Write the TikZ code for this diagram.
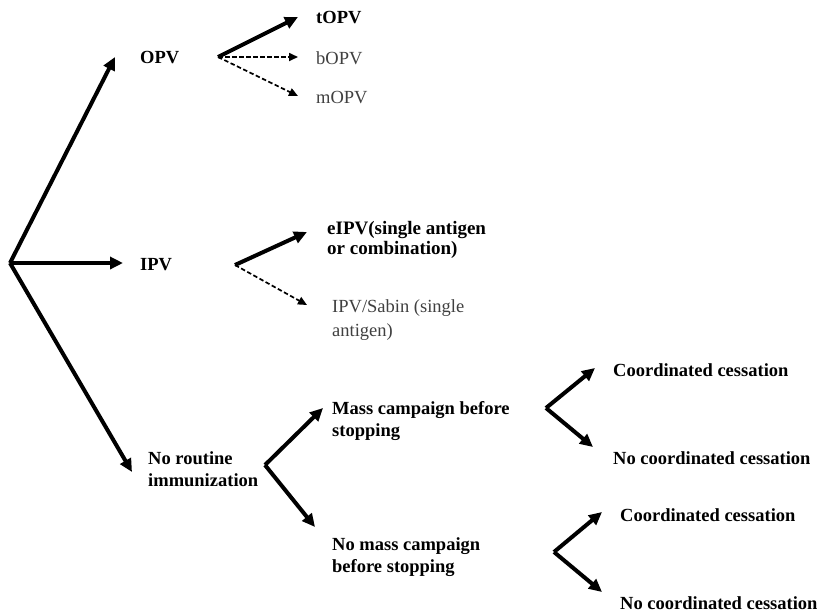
\documentclass[tikz,border=0pt]{standalone}
\usepackage{fontspec}
\setmainfont{Liberation Serif}
\usetikzlibrary{arrows.meta}
\begin{document}
\begin{tikzpicture}[x=1pt,y=-1pt,
  lbl/.style={anchor=west,inner sep=0pt,align=left,
    font=\fontsize{18.5}{22}\selectfont\bfseries},
  lite/.style={anchor=west,inner sep=0pt,align=left,text=black!75,
    font=\fontsize{18.5}{23}\selectfont},
  strong/.style={line width=4pt,-{Triangle[length=13pt,width=12pt]}},
  weak/.style={line width=1.7pt,dash pattern=on 4.5pt off 2.5pt,
    -{Triangle[length=9pt,width=8pt]}}]
\useasboundingbox (0,0) rectangle (822,614);

% branch points
\coordinate (root) at (10,263);
\coordinate (vopv) at (218,57);
\coordinate (vipv) at (235,265);
\coordinate (vnr)  at (265,465);
\coordinate (vmc)  at (546,408);
\coordinate (vnm)  at (554,552);

% arrow ends
\coordinate (eopv)  at (115,57);
\coordinate (eipv)  at (123,263);
\coordinate (enr)   at (132,472);
\coordinate (etopv) at (298,17);
\coordinate (ebopv) at (298,57);
\coordinate (emopv) at (298,96);
\coordinate (eeipv) at (307,232);
\coordinate (esab)  at (307,305);
\coordinate (emc)   at (323,408);
\coordinate (enm)   at (315,527);
\coordinate (ecc1)  at (595,368);
\coordinate (encc1) at (593,447);
\coordinate (ecc2)  at (602,512);
\coordinate (encc2) at (602,592);

% labels
\node[lbl] (opv)  at (140,58) {OPV};
\node[lbl] (ipv)  at (140,265) {IPV};
\node[lbl] (nr)   at (148,469) {No routine\\immunization};
\node[lbl] (topv) at (316,18) {tOPV};
\node[lite] (bopv) at (316,58) {bOPV};
\node[lite] (mopv) at (316,98) {mOPV};
\node[lbl,font=\fontsize{19}{20}\selectfont\bfseries] (eipvt) at (327,240) {eIPV(single antigen\\or combination)};
\node[lite,font=\fontsize{18.5}{24}\selectfont] (sab) at (332,320) {IPV/Sabin (single\\antigen)};
\node[lbl] (mc)   at (332,421) {Mass campaign before\\stopping};
\node[lbl] (nm)   at (332,557) {No mass campaign\\before stopping};
\node[lbl] (cc1)  at (613,370) {Coordinated cessation};
\node[lbl] (ncc1) at (613,458) {No coordinated cessation};
\node[lbl] (cc2)  at (620,515) {Coordinated cessation};
\node[lbl] (ncc2) at (620,603) {No coordinated cessation};

% connectors
\draw[strong] (root) -- (eopv);
\draw[strong] (root) -- (eipv);
\draw[strong] (root) -- (enr);
\draw[strong] (vopv) -- (etopv);
\draw[weak]   (vopv) -- (ebopv);
\draw[weak]   (vopv) -- (emopv);
\draw[strong] (vipv) -- (eeipv);
\draw[weak]   (vipv) -- (esab);
\draw[strong] (vnr) -- (emc);
\draw[strong] (vnr) -- (enm);
\draw[strong] (vmc) -- (ecc1);
\draw[strong] (vmc) -- (encc1);
\draw[strong] (vnm) -- (ecc2);
\draw[strong] (vnm) -- (encc2);
\end{tikzpicture}
\end{document}
